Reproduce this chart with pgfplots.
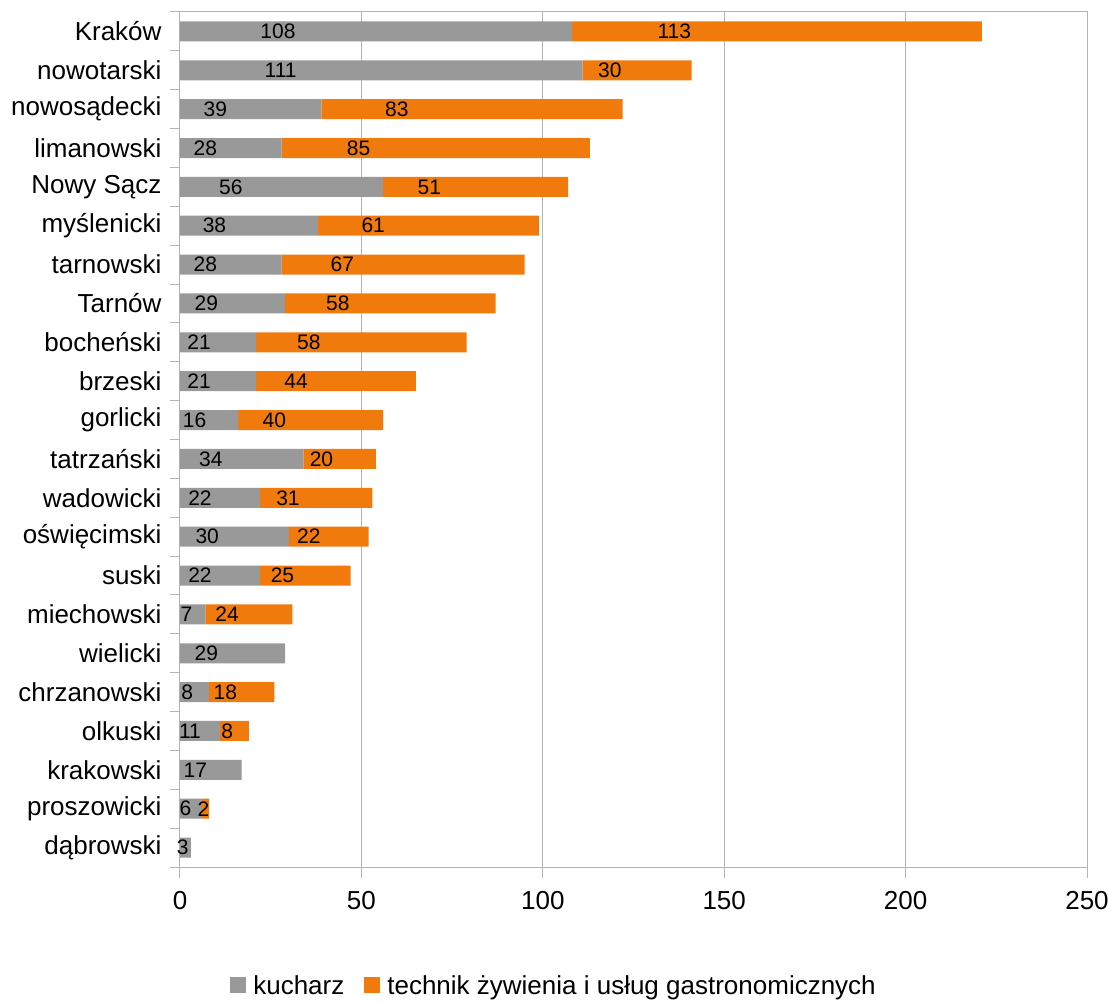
\documentclass[border=0pt]{standalone}
\usepackage{fontspec}
\setmainfont{Liberation Sans}
\usepackage{pgfplots}
\pgfplotsset{compat=1.18}
\usepackage{pgfplotstable}

\definecolor{kucharz}{HTML}{999999}
\definecolor{technik}{HTML}{F07A0C}
\definecolor{axisgray}{HTML}{B3B3B3}

% pos: row position (0 = bottom), k: kucharz, t: technik
\pgfplotstableread{
pos k t
21 108 113
20 111 30
19 39 83
18 28 85
17 56 51
16 38 61
15 28 67
14 29 58
13 21 58
12 21 44
11 16 40
10 34 20
9 22 31
8 30 22
7 22 25
6 7 24
5 29 0
4 8 18
3 11 8
2 17 0
1 6 2
0 3 0
}\data

\begin{document}
\begin{tikzpicture}
\useasboundingbox (-180pt,-134pt) rectangle (928pt,867pt);
\begin{axis}[
  at={(0,0)}, anchor=south west,
  scale only axis, width=907pt, height=855pt,
  xbar stacked, bar width=20pt,
  xmin=0, xmax=250, ymin=-0.5, ymax=21.5,
  xtick={0,50,...,250},
  ytick={0,...,21},
  yticklabels={dąbrowski,proszowicki,krakowski,olkuski,chrzanowski,wielicki,miechowski,suski,oświęcimski,wadowicki,tatrzański,gorlicki,brzeski,bocheński,Tarnów,tarnowski,myślenicki,Nowy Sącz,limanowski,nowosądecki,nowotarski,Kraków},
  minor ytick={-0.5,0.5,...,21.5},
  tick align=outside,
  xtick pos=bottom, ytick pos=left,
  major tick length=11pt, minor tick length=10pt,
  major y tick style={draw=none},
  minor y tick style={draw=axisgray, line width=1pt},
  major x tick style={draw=axisgray, line width=1pt},
  xmajorgrids,
  grid style={axisgray, line width=1pt},
  axis line style={axisgray, line width=1pt},
  ticklabel style={font=\fontsize{26}{30}\selectfont, text=black},
  xticklabel style={yshift=-10pt},
  yticklabel style={xshift=-4pt},
  /pgf/number format/assume math mode=true,
  legend style={at={(0.4124,-0.1385)}, anchor=center, draw=none,
    font=\fontsize{26}{30}\selectfont, legend columns=2,
    /tikz/every odd column/.append style={column sep=5pt},
    /tikz/every even column/.append style={column sep=18pt}},
  legend image code/.code={\fill[#1] (0pt,-8pt) rectangle (16pt,8pt);},
  % the node style is applied twice, so a quarter of the segment
  % moves each label back to the middle of its own segment
  every node near coord/.append style={font=\fontsize{21}{24}\selectfont, text=black, anchor=center,
    shift={(axis direction cs:-\val/4,0)}},
]
\addplot[fill=kucharz, draw=none,
  visualization depends on={\thisrow{k} \as \val},
  nodes near coords={\ifdim\val pt>0pt \pgfmathprintnumber{\val}\fi}]
  table[x=k, y=pos]{\data};
\addplot[fill=technik, draw=none,
  visualization depends on={\thisrow{t} \as \val},
  nodes near coords={\ifdim\val pt>0pt \pgfmathprintnumber{\val}\fi}]
  table[x=t, y=pos]{\data};
\legend{kucharz, technik żywienia i usług gastronomicznych}
\end{axis}
\end{tikzpicture}
\end{document}
